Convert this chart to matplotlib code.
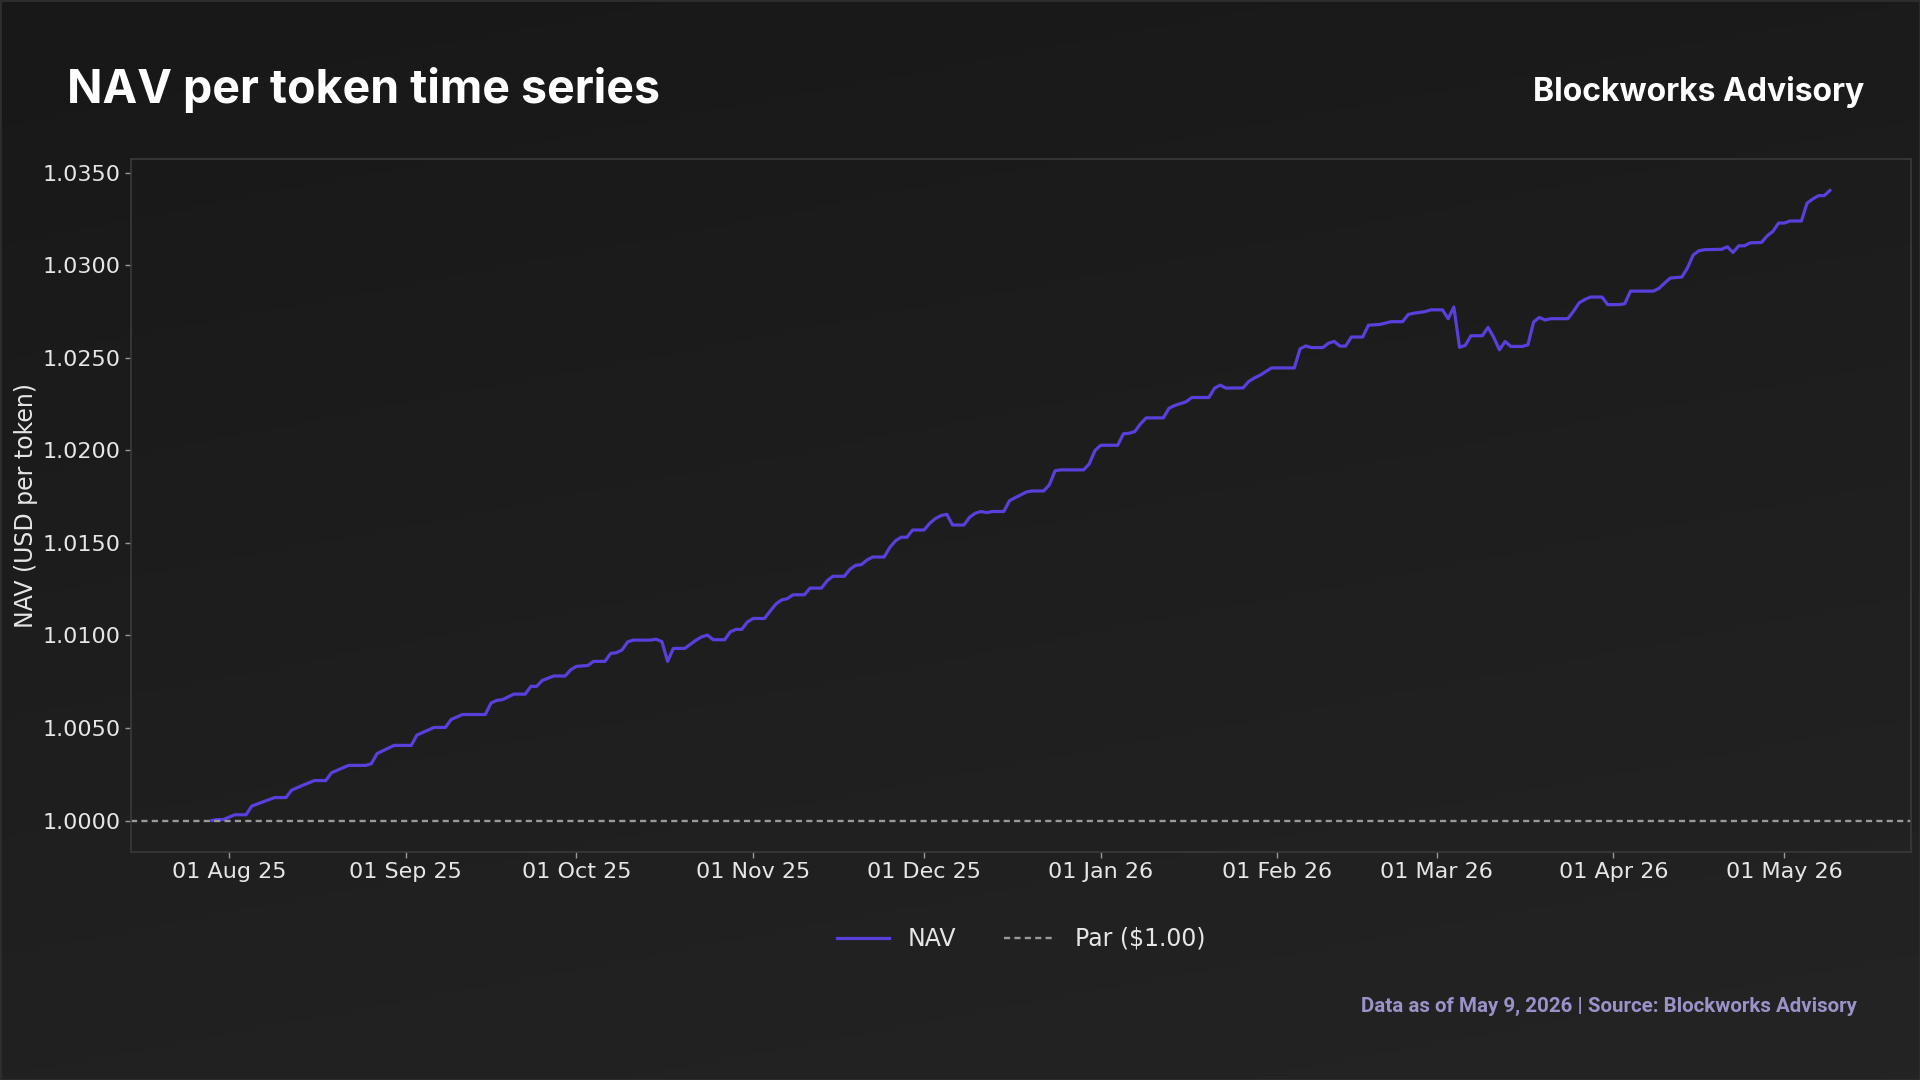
import matplotlib
matplotlib.use("Agg")
import matplotlib.pyplot as plt
import matplotlib.dates as mdates
from matplotlib.colors import LinearSegmentedColormap
from matplotlib.patches import Rectangle
import numpy as np
import pandas as pd

# NAV per token at the points where the line turns
start_date = "2025-08-01"
day_offsets = [-3, -2, -1, 1, 3, 4, 8, 10, 11, 13, 15, 17, 18, 21, 24, 25, 26, 29, 32, 33,
               36, 38, 39, 41, 45, 46, 47, 48, 50, 52, 53, 54, 55, 57, 59, 60, 61, 63, 64, 66,
               67, 68, 69, 70, 71, 74, 75, 76, 77, 78, 80, 82, 83, 84, 85, 87, 88, 89, 90, 91,
               92, 94, 95, 96, 97, 98, 99, 101, 102, 104, 105, 106, 108, 109, 110, 111, 112, 113, 115, 116,
               117, 118, 119, 120, 122, 123, 124, 125, 126, 127, 129, 130, 131, 132, 133, 134, 136,
               137, 138, 139, 140, 141, 143, 144, 145, 146, 150, 151, 152, 153, 156, 157, 158, 159, 160, 161, 164,
               165, 166, 168, 169, 172, 173, 174, 175, 178, 179, 180, 181, 183, 187, 188, 189, 190, 192, 193, 194,
               195, 196, 197, 199, 200, 202, 204, 206,
               207, 208, 209, 210, 211, 213, 214, 215, 216, 217, 218, 220, 221, 222, 223, 224, 225, 227, 228, 229,
               230, 231, 232, 235, 236, 237, 238, 239, 241, 242, 244, 245, 246, 250, 251, 252, 253, 255, 256, 257,
               258, 259, 262, 263, 264, 265, 266, 267, 269, 270, 271, 272, 273, 274, 276, 277, 278, 279, 280, 281]
# NAV above $1.00, in thousandths of a dollar
nav_above_par = [0.00, 0.05, 0.05, 0.31, 0.31, 0.78, 1.24, 1.24, 1.64, 1.91, 2.16, 2.16, 2.58, 2.98, 2.98, 3.07, 3.62, 4.06, 4.06, 4.62,
                 5.03, 5.03, 5.46, 5.73, 5.73, 6.35, 6.49, 6.53, 6.83, 6.83, 7.25, 7.25, 7.57, 7.81, 7.81, 8.15, 8.33, 8.38, 8.60, 8.60,
                 9.03, 9.07, 9.22, 9.66, 9.75, 9.75, 9.80, 9.66, 8.60, 9.30, 9.30, 9.75, 9.93, 10.02, 9.77, 9.77, 10.20, 10.33, 10.33, 10.73,
                 10.92, 10.92, 11.32, 11.70, 11.92, 11.99, 12.20, 12.20, 12.56, 12.56, 12.96, 13.20, 13.20, 13.58, 13.79, 13.83, 14.08, 14.24, 14.24, 14.76,
                 15.12, 15.31, 15.31, 15.70, 15.70, 16.06, 16.32, 16.48, 16.55, 15.97, 15.97, 16.39, 16.61, 16.70, 16.64, 16.70, 16.70,
                 17.28, 17.45, 17.60, 17.76, 17.81, 17.81, 18.14, 18.90, 18.95, 18.95, 19.27, 19.99, 20.28, 20.28, 20.90, 20.93, 21.02, 21.44, 21.76, 21.76,
                 22.28, 22.43, 22.63, 22.86, 22.86, 23.37, 23.53, 23.37, 23.38, 23.73, 23.92, 24.07, 24.46, 24.46, 25.49, 25.65, 25.56, 25.56, 25.80, 25.89,
                 25.64, 25.64, 26.13, 26.13, 26.77, 26.81, 26.96, 26.96,
                 27.35, 27.42, 27.46, 27.51, 27.60, 27.60, 27.12, 27.75, 25.57, 25.68, 26.20, 26.20, 26.65, 26.11, 25.44, 25.89, 25.62, 25.62, 25.71, 26.94,
                 27.19, 27.05, 27.12, 27.12, 27.52, 27.98, 28.16, 28.29, 28.29, 27.88, 27.88, 27.93, 28.61, 28.61, 28.76, 29.05, 29.32, 29.37, 29.86, 30.56,
                 30.79, 30.85, 30.87, 31.01, 30.70, 31.06, 31.06, 31.22, 31.24, 31.60, 31.84, 32.29, 32.29, 32.40, 32.40, 33.37, 33.59, 33.77, 33.77, 34.05]
par_value = 1.0
y_ticks = [1.000, 1.005, 1.010, 1.015, 1.020, 1.025, 1.030, 1.035]

dates = pd.Timestamp(start_date) + pd.to_timedelta(day_offsets, unit="D")
nav = 1 + np.array(nav_above_par) / 1000

plt.rcParams['font.family'] = ['DejaVu Sans']
fig = plt.figure(figsize=(19.2, 10.8), dpi=100)

# dark gradient background
bg = fig.add_axes([0, 0, 1, 1], zorder=-10)
cmap = LinearSegmentedColormap.from_list("bg", ["#181818", "#242424"])
yy, xx = np.mgrid[0:1:200j, 0:1:200j]
bg.imshow(0.75 * yy + 0.25 * xx, cmap=cmap, extent=[0, 1, 0, 1], aspect="auto", origin="upper")
bg.axis("off")
fig.patches.append(Rectangle((0, 0), 1, 1, transform=fig.transFigure, fill=False,
                             edgecolor="#2e2e2e", linewidth=2))

ax = fig.add_axes([0.0682, 0.2111, 0.927, 0.6417])
ax.set_facecolor("none")
ax.plot(dates, nav, color="#5a3fdc", linewidth=2.3, label="NAV")
ax.axhline(par_value, color="#9a9a9a", linewidth=1.7, linestyle=(0, (2.6, 1.8)), label="Par ($1.00)")

ax.set_yticks(y_ticks)
ax.yaxis.set_major_formatter(matplotlib.ticker.FormatStrFormatter("%.4f"))
ax.xaxis.set_major_locator(mdates.MonthLocator(bymonthday=1))
ax.xaxis.set_major_formatter(mdates.DateFormatter("%d %b %y"))
ax.tick_params(colors="#9a9a9a", labelcolor="#e6e6e6", labelsize=16, length=4, width=1)
for s in ax.spines.values():
    s.set_color("#3a3a3a")
    s.set_linewidth(1.2)

fig.text(0.0135, 0.532, "NAV (USD per token)", rotation=90, color="#e6e6e6",
         fontsize=17, ha="center", va="center")

fig.text(0.035, 0.9165, "NAV per token time series", color="white", fontsize=33.5,
         fontweight="bold", family="Inter", ha="left", va="center")
fig.text(0.971, 0.915, "Blockworks Advisory", color="white", fontsize=23,
         fontweight="bold", family="Inter", ha="right", va="center")
fig.text(0.967, 0.068, "Data as of May 9, 2026 | Source: Blockworks Advisory",
         color="#9a92c8", fontsize=14.8, fontweight="bold", family="Roboto",
         ha="right", va="center")

fig.legend(loc="center", bbox_to_anchor=(0.5318, 0.1306), ncol=2, frameon=False,
           fontsize=17, labelcolor="#e6e6e6", handlelength=2.2, handletextpad=0.8,
           columnspacing=2.0)

fig.savefig("out.png", dpi=100)
